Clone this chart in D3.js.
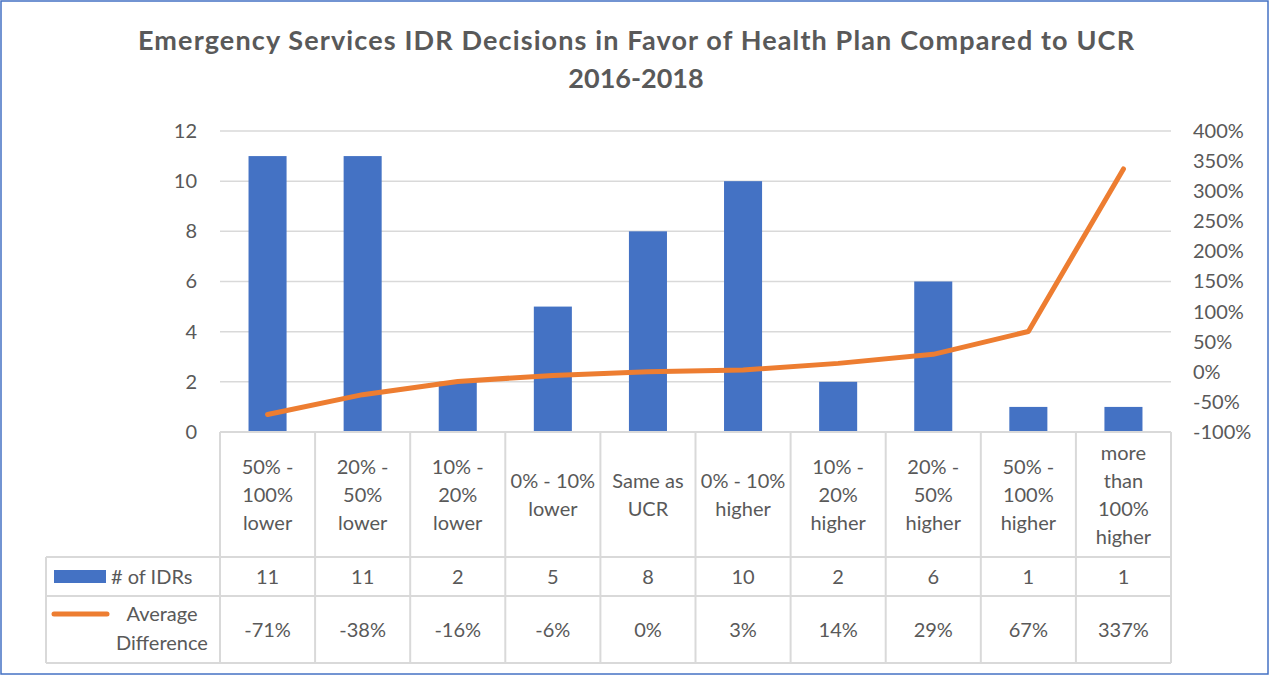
<!DOCTYPE html>
<html>
<head>
<meta charset="utf-8">
<script src="https://cdn.jsdelivr.net/npm/d3@7/dist/d3.min.js"></script>
<style>
  html, body { margin: 0; padding: 0; background: #FFFFFF; }
  svg { display: block; font-family: Lato, "Open Sans", sans-serif; }
</style>
</head>
<body>
<svg id="chart"></svg>
<script>
//--Data
var categoryLines = [
  ["50% -", "100%", "lower"],
  ["20% -", "50%", "lower"],
  ["10% -", "20%", "lower"],
  ["0% - 10%", "lower"],
  ["Same as", "UCR"],
  ["0% - 10%", "higher"],
  ["10% -", "20%", "higher"],
  ["20% -", "50%", "higher"],
  ["50% -", "100%", "higher"],
  ["more", "than", "100%", "higher"]
];
var idrCounts = [11, 11, 2, 5, 8, 10, 2, 6, 1, 1];
var avgDifference = [-0.71, -0.38, -0.16, -0.06, 0, 0.03, 0.14, 0.29, 0.67, 3.37];
var leftTicks = [0, 2, 4, 6, 8, 10, 12];
var rightTicks = [-1, -0.5, 0, 0.5, 1, 1.5, 2, 2.5, 3, 3.5, 4];
var titleLines = ["Emergency Services IDR Decisions in Favor of Health Plan Compared to UCR", "2016-2018"];
var seriesNames = ["# of IDRs", ["Average", "Difference"]];

//--Shared info
var canvas = {
  width: 1272,
  height: 676,
  left: 220,
  right: 1171,
  top: 131,
  bottom: 432,
  legendLeft: 46,
  row1: 557,
  row2: 596,
  tableBottom: 663,
  text: "#595959",
  grid: "#D9D9D9",
  bar: "#4472C4",
  line: "#ED7D31"
};
var idx = d3.range(categoryLines.length);
canvas.x = d3.scaleBand().domain(idx).range([canvas.left, canvas.right]).paddingInner(0.6).paddingOuter(0.3);
canvas.cell = d3.scaleBand().domain(idx).range([canvas.left, canvas.right]);
canvas.yL = d3.scaleLinear().domain([0, 12]).range([canvas.bottom, canvas.top]);
canvas.yR = d3.scaleLinear().domain([-1, 4]).range([canvas.bottom, canvas.top]);
//plain hyphen for negatives, like the original
var pct = d3.formatLocale({decimal: ".", thousands: ",", grouping: [3], currency: ["", ""], minus: "-"}).format(".0%");

let root = d3.select("#chart")
  .attr("width", canvas.width)
  .attr("height", canvas.height);

//Border
root.append("rect")
  .attr("x", 1).attr("y", 1)
  .attr("width", canvas.width - 5).attr("height", canvas.height - 3)
  .attr("fill", "#FFFFFF")
  .attr("stroke", "#4472C4")
  .attr("stroke-width", 1.5);

//Title
root.append("text")
  .attr("x", canvas.width / 2)
  .attr("text-anchor", "middle")
  .attr("fill", canvas.text)
  .style("font-size", "27px")
  .style("font-weight", "bold")
  .selectAll("tspan")
  .data(titleLines)
  .enter()
  .append("tspan")
  .attr("x", canvas.width / 2)
  .attr("y", (d, i) => 50 + i * 38)
  .attr("textLength", (d, i) => i === 0 ? 996 : null)
  .attr("lengthAdjust", "spacing")
  .text(d => d);

//Gridlines
root.append("g")
  .selectAll("line")
  .data(leftTicks.filter(d => d > 0))
  .enter()
  .append("line")
  .attr("x1", canvas.left).attr("x2", canvas.right)
  .attr("y1", d => canvas.yL(d)).attr("y2", d => canvas.yL(d))
  .attr("stroke", canvas.grid)
  .attr("stroke-width", 1.5);

//Left axis
let leftAxis = root.append("g")
  .attr("transform", "translate(" + (canvas.left - 23) + ",0)")
  .call(d3.axisLeft(canvas.yL).tickValues(leftTicks).tickSize(0).tickPadding(0));
leftAxis.select(".domain").remove();
leftAxis.selectAll("text").attr("fill", canvas.text).style("font-size", "20px").style("font-family", "Lato");

//Right axis
let rightAxis = root.append("g")
  .attr("transform", "translate(" + (canvas.right + 22) + ",0)")
  .call(d3.axisRight(canvas.yR).tickValues(rightTicks).tickSize(0).tickPadding(0).tickFormat(pct));
rightAxis.select(".domain").remove();
rightAxis.selectAll("text").attr("fill", canvas.text).style("font-size", "20px").style("font-family", "Lato");

//Bars
root.append("g")
  .selectAll("rect")
  .data(idrCounts)
  .enter()
  .append("rect")
  .attr("x", (d, i) => canvas.x(i))
  .attr("width", canvas.x.bandwidth())
  .attr("y", d => canvas.yL(d))
  .attr("height", d => canvas.yL(0) - canvas.yL(d))
  .attr("fill", canvas.bar);

//Data table lines
let table = root.append("g")
  .attr("stroke", canvas.grid)
  .attr("stroke-width", 2);
table.append("line")
  .attr("x1", canvas.left).attr("x2", canvas.right)
  .attr("y1", canvas.bottom).attr("y2", canvas.bottom);
[canvas.row1, canvas.row2, canvas.tableBottom].forEach(y => {
  table.append("line")
    .attr("x1", canvas.legendLeft).attr("x2", canvas.right)
    .attr("y1", y).attr("y2", y);
});
table.selectAll(".vline")
  .data(idx.concat([idx.length]))
  .enter()
  .append("line")
  .attr("x1", d => d < idx.length ? canvas.cell(d) : canvas.right)
  .attr("x2", d => d < idx.length ? canvas.cell(d) : canvas.right)
  .attr("y1", canvas.bottom).attr("y2", canvas.tableBottom);
table.append("line")
  .attr("x1", canvas.legendLeft).attr("x2", canvas.legendLeft)
  .attr("y1", canvas.row1).attr("y2", canvas.tableBottom);

//Category labels
let lineH = 28;
root.append("g")
  .selectAll("text")
  .data(categoryLines)
  .enter()
  .append("text")
  .attr("text-anchor", "middle")
  .attr("fill", canvas.text)
  .style("font-size", "20px")
  .each(function (lines, i) {
    let cx = canvas.cell(i) + canvas.cell.bandwidth() / 2;
    let cy = (canvas.bottom + canvas.row1) / 2;
    d3.select(this)
      .selectAll("tspan")
      .data(lines)
      .enter()
      .append("tspan")
      .attr("x", cx)
      .attr("y", (d, j) => cy + (j - (lines.length - 1) / 2) * lineH)
      .attr("dy", "0.35em")
      .text(d => d);
  });

//Table values
root.append("g")
  .selectAll("text")
  .data(idrCounts)
  .enter()
  .append("text")
  .attr("x", (d, i) => canvas.cell(i) + canvas.cell.bandwidth() / 2)
  .attr("y", (canvas.row1 + canvas.row2) / 2)
  .attr("dy", "0.35em")
  .attr("text-anchor", "middle")
  .attr("fill", canvas.text)
  .style("font-size", "20px")
  .text(d => d);
root.append("g")
  .selectAll("text")
  .data(avgDifference)
  .enter()
  .append("text")
  .attr("x", (d, i) => canvas.cell(i) + canvas.cell.bandwidth() / 2)
  .attr("y", (canvas.row2 + canvas.tableBottom) / 2)
  .attr("dy", "0.35em")
  .attr("text-anchor", "middle")
  .attr("fill", canvas.text)
  .style("font-size", "20px")
  .text(d => pct(d));

//Legend keys
root.append("rect")
  .attr("x", 54).attr("y", 570)
  .attr("width", 52).attr("height", 13)
  .attr("fill", canvas.bar);
root.append("text")
  .attr("x", 111).attr("y", (canvas.row1 + canvas.row2) / 2)
  .attr("dy", "0.35em")
  .attr("fill", canvas.text)
  .style("font-size", "20px")
  .text(seriesNames[0]);
root.append("line")
  .attr("x1", 54).attr("x2", 107)
  .attr("y1", 614).attr("y2", 614)
  .attr("stroke", canvas.line)
  .attr("stroke-width", 5)
  .attr("stroke-linecap", "round");
root.append("text")
  .attr("text-anchor", "middle")
  .attr("fill", canvas.text)
  .style("font-size", "20px")
  .selectAll("tspan")
  .data(seriesNames[1])
  .enter()
  .append("tspan")
  .attr("x", 162)
  .attr("y", (d, i) => 614 + i * 29)
  .attr("dy", "0.35em")
  .text(d => d);

//Line
root.append("path")
  .datum(avgDifference)
  .attr("fill", "none")
  .attr("stroke", canvas.line)
  .attr("stroke-width", 5)
  .attr("stroke-linecap", "round")
  .attr("stroke-linejoin", "round")
  .attr("d", d3.line()
    .x((d, i) => canvas.x(i) + canvas.x.bandwidth() / 2)
    .y(d => canvas.yR(d)));
</script>
</body>
</html>
